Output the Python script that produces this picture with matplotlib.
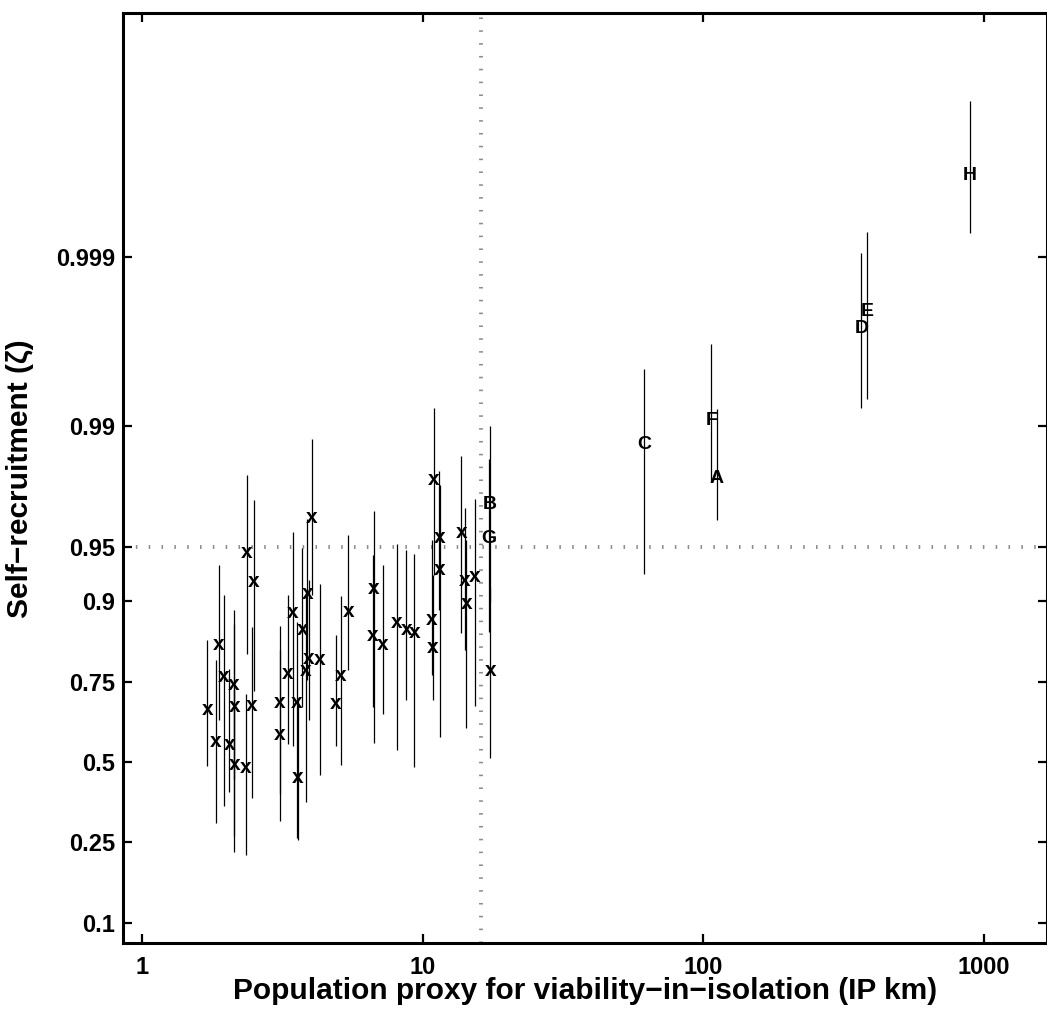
import matplotlib
matplotlib.use("Agg")
import matplotlib.pyplot as plt
from matplotlib.ticker import FixedLocator, FixedFormatter, NullLocator

plt.rcParams["font.family"] = ["Liberation Sans", "DejaVu Sans"]
plt.rcParams["font.weight"] = "bold"

# unlabelled sites: population proxy (IP km), self-recruitment and its interval
site_ip = [1.705, 1.827, 1.873, 1.956, 2.044, 2.115, 2.129, 2.129, 2.363, 2.503,
           2.344, 2.462, 3.086, 3.086, 3.310, 3.440, 3.549, 3.578, 3.723, 3.870,
           3.837, 3.933, 4.021, 4.305, 4.898, 5.095, 5.431, 6.692, 6.637, 7.193,
           8.091, 8.727, 9.333, 10.92, 10.78, 10.85, 11.46, 11.47, 13.71, 14.09,
           14.29, 15.29, 17.40]
site_sr = [0.6719, 0.5695, 0.8327, 0.7627, 0.5588, 0.7424, 0.6797, 0.4915, 0.9457, 0.9222,
           0.4806, 0.6833, 0.6921, 0.5931, 0.7695, 0.8848, 0.6921, 0.4466, 0.8593, 0.9089,
           0.7772, 0.8050, 0.9659, 0.8021, 0.6897, 0.7647, 0.8862, 0.9145, 0.8491, 0.8328,
           0.8709, 0.8598, 0.8548, 0.9793, 0.8754, 0.8275, 0.9555, 0.9327, 0.9582, 0.9226,
           0.8970, 0.9263, 0.7763]
site_lo = [0.4857, 0.3033, 0.6411, 0.3535, 0.3993, 0.4426, 0.2671, 0.2252, 0.8148, 0.7253,
           0.2188, 0.3799, 0.3918, 0.3091, 0.5595, 0.5537, 0.2610, 0.2558, 0.6797, 0.7534,
           0.3670, 0.6390, 0.9070, 0.4551, 0.5548, 0.4891, 0.7779, 0.5628, 0.6797, 0.6576,
           0.5402, 0.6993, 0.4833, 0.9277, 0.7659, 0.6993, 0.8883, 0.5849, 0.8531, 0.8215,
           0.6134, 0.6818, 0.5140]
site_hi = [0.8420, 0.8021, 0.9369, 0.9079, 0.7819, 0.8892, 0.8678, 0.7272, 0.9805, 0.9730,
           0.7162, 0.8636, 0.8647, 0.8215, 0.9079, 0.9586, 0.8714, 0.6993, 0.9490, 0.9650,
           0.9127, 0.9229, 0.9881, 0.9190, 0.8496, 0.9059, 0.9568, 0.9686, 0.9439, 0.9369,
           0.9518, 0.9480, 0.9447, 0.99216, 0.9538, 0.9277, 0.9817, 0.9777, 0.9849, 0.9697,
           0.9538, 0.9734, 0.9162]

# labelled populations
pop_names = ["A", "B", "C", "D", "E", "F", "G", "H"]
pop_ip = [112.0, 17.33, 61.65, 366.4, 384.0, 106.9, 17.26, 892.2]
pop_sr = [0.98022, 0.9721, 0.98752, 0.997404, 0.997932, 0.99090, 0.9563, 0.999679]
pop_lo = [0.96482, 0.8990, 0.9292, 0.99216, 0.993063, 0.97865, 0.8553, 0.999276]
pop_hi = [0.99206, 0.9900, 0.99538, 0.999045, 0.999282, 0.99671, 0.9843, 0.999880]

# thresholds
ip_threshold = 16.16
sr_threshold = 0.95

x_ticks = [1, 10, 100, 1000]
x_ticklabels = ["1", "10", "100", "1000"]
y_ticks = [0.1, 0.25, 0.5, 0.75, 0.9, 0.95, 0.99, 0.999]
y_ticklabels = ["0.1", "0.25", "0.5", "0.75", "0.9", "0.95", "0.99", "0.999"]

W, H = 1047, 1013
fig = plt.figure(figsize=(W / 100, H / 100), dpi=100)
ax = fig.add_axes([123.3 / W, (H - 943.3) / H, (1046.5 - 123.3) / W, (943.3 - 13.3) / H])

ax.set_xscale("log")
ax.set_yscale("logit")
ax.set_xlim(0.855, 1675)
ax.set_ylim(0.0774, 0.999964)

dots = (0, (0.4, 2.9))
ax.axvline(ip_threshold, color="0.55", lw=2.8, ls=dots, dash_capstyle="butt", zorder=1)
ax.axhline(sr_threshold, color="0.55", lw=2.8, ls=dots, dash_capstyle="butt", zorder=1)

ax.vlines(site_ip, site_lo, site_hi, color="k", lw=0.9, zorder=2)
ax.vlines(pop_ip, pop_lo, pop_hi, color="k", lw=0.9, zorder=2)

for xv, yv in zip(site_ip, site_sr):
    ax.text(xv, yv, "x", ha="center", va="center", fontsize=15, fontweight="bold", zorder=3)
for name, xv, yv in zip(pop_names, pop_ip, pop_sr):
    ax.text(xv, yv, name, ha="center", va="center_baseline", fontsize=14,
            fontweight="bold", zorder=3)

ax.xaxis.set_major_locator(FixedLocator(x_ticks))
ax.xaxis.set_major_formatter(FixedFormatter(x_ticklabels))
ax.xaxis.set_minor_locator(NullLocator())
ax.yaxis.set_major_locator(FixedLocator(y_ticks))
ax.yaxis.set_major_formatter(FixedFormatter(y_ticklabels))
ax.yaxis.set_minor_locator(NullLocator())

ax.tick_params(which="major", direction="in", length=6.5, width=1.6,
               top=True, right=True, labelsize=17)
ax.tick_params(axis="x", pad=9)
ax.tick_params(axis="y", pad=6)
for s in ax.spines.values():
    s.set_linewidth(2.2)

ax.set_xlabel("Population proxy for viability\u2212in\u2212isolation (IP km)",
              fontsize=21.5, fontweight="bold")
ax.set_ylabel("Self\u2212recruitment (\u03b6)", fontsize=21.5, fontweight="bold")
ax.xaxis.set_label_coords(0.5, -0.036)
ax.yaxis.set_label_coords(-0.097, 0.5)

fig.savefig("out.png", dpi=100)
plt.close(fig)
